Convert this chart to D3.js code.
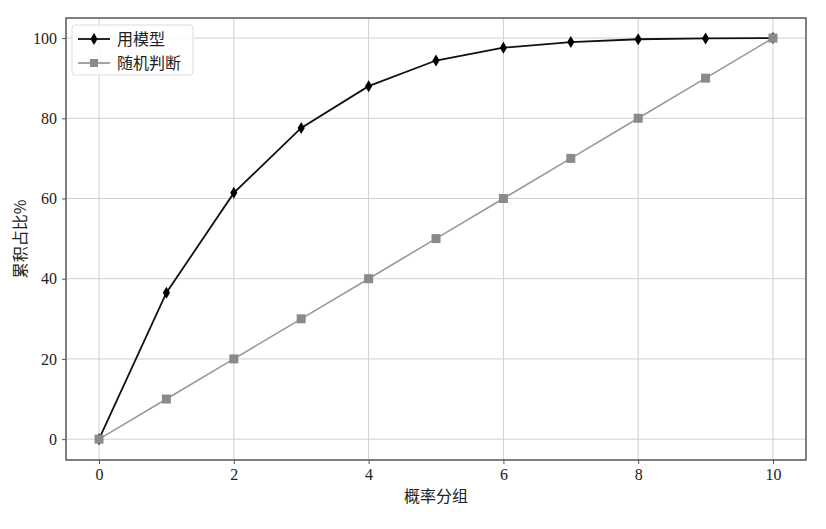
<!DOCTYPE html>
<html>
<head>
<meta charset="utf-8">
<script src="https://cdn.jsdelivr.net/npm/d3@7"></script>
<style>
  body { margin: 0; background: #fff; }
  text { font-family: "Liberation Serif", "DejaVu Serif", serif; }
  .cjk { font-family: "Noto Sans CJK SC", sans-serif; }
</style>
</head>
<body>
<svg id="chart" width="826" height="529"></svg>
<script>
// groups on the x axis
const groups = [0, 1, 2, 3, 4, 5, 6, 7, 8, 9, 10];
// cumulative share, using the model
const modelValues = [0, 36.5, 61.4, 77.6, 88.0, 94.4, 97.6, 99.0, 99.7, 99.9, 100];
// cumulative share, random guess
const randomValues = [0, 10, 20, 30, 40, 50, 60, 70, 80, 90, 100];
const xTicks = [0, 2, 4, 6, 8, 10];
const yTicks = [0, 20, 40, 60, 80, 100];
const seriesNames = ['用模型', '随机判断'];

const svg = d3.select('#chart');
const plotLeft = 66, plotRight = 806, plotTop = 18, plotBottom = 460;

const x = d3.scaleLinear().domain([-0.49, 10.49]).range([plotLeft, plotRight]);
const y = d3.scaleLinear().domain([-5.2, 105]).range([plotBottom, plotTop]);

// grid
svg.append('g').selectAll('line').data(xTicks).join('line')
    .attr('x1', d => x(d)).attr('x2', d => x(d))
    .attr('y1', plotTop).attr('y2', plotBottom)
    .attr('stroke', '#cfcfcf').attr('stroke-width', 1);
svg.append('g').selectAll('line').data(yTicks).join('line')
    .attr('y1', d => y(d)).attr('y2', d => y(d))
    .attr('x1', plotLeft).attr('x2', plotRight)
    .attr('stroke', '#cfcfcf').attr('stroke-width', 1);

// axes
const xAxis = svg.append('g').attr('transform', `translate(0,${plotBottom})`)
    .call(d3.axisBottom(x).tickValues(xTicks).tickSize(4).tickPadding(5));
const yAxis = svg.append('g').attr('transform', `translate(${plotLeft},0)`)
    .call(d3.axisLeft(y).tickValues(yTicks).tickSize(4).tickPadding(5));
[xAxis, yAxis].forEach(a => {
    a.select('.domain').remove();
    a.selectAll('line').attr('stroke', '#555');
    a.selectAll('text').attr('font-size', 16).attr('fill', '#222')
        .style('font-family', '"Liberation Serif", serif');
});

// frame
svg.append('rect')
    .attr('x', plotLeft).attr('y', plotTop)
    .attr('width', plotRight - plotLeft).attr('height', plotBottom - plotTop)
    .attr('fill', 'none').attr('stroke', '#555').attr('stroke-width', 1.5);

const line = d3.line().x((d, i) => x(groups[i])).y(d => y(d));
const diamond = 'M0,-6L3.6,0L0,6L-3.6,0Z';

// model series
svg.append('path').datum(modelValues)
    .attr('d', line).attr('fill', 'none')
    .attr('stroke', '#111').attr('stroke-width', 1.8);
svg.append('g').selectAll('path').data(modelValues).join('path')
    .attr('d', diamond)
    .attr('transform', (d, i) => `translate(${x(groups[i])},${y(d)})`)
    .attr('fill', '#000');

// random series
svg.append('path').datum(randomValues)
    .attr('d', line).attr('fill', 'none')
    .attr('stroke', '#999').attr('stroke-width', 1.6);
svg.append('g').selectAll('rect').data(randomValues).join('rect')
    .attr('x', (d, i) => x(groups[i]) - 4.5).attr('y', d => y(d) - 4.5)
    .attr('width', 9).attr('height', 9).attr('fill', '#8a8a8a');

// legend
const lg = svg.append('g').attr('transform', 'translate(72,25)');
lg.append('rect').attr('width', 121).attr('height', 50).attr('rx', 3)
    .attr('fill', 'rgba(255,255,255,0.85)').attr('stroke', '#ddd');
const items = [
    { name: seriesNames[0], color: '#111', mark: 'diamond' },
    { name: seriesNames[1], color: '#999', mark: 'square' }
];
items.forEach((it, i) => {
    const cy = 14 + i * 24;
    lg.append('line').attr('x1', 6).attr('x2', 38).attr('y1', cy).attr('y2', cy)
        .attr('stroke', it.color).attr('stroke-width', 1.8);
    if (it.mark === 'diamond') {
        lg.append('path').attr('d', diamond).attr('transform', `translate(22,${cy})`).attr('fill', '#000');
    } else {
        lg.append('rect').attr('x', 18).attr('y', cy - 4).attr('width', 8).attr('height', 8).attr('fill', '#8a8a8a');
    }
    lg.append('text').attr('class', 'cjk').attr('x', 45).attr('y', cy + 5.5)
        .attr('font-size', 16).attr('fill', '#222').text(it.name);
});

// axis labels
svg.append('text').attr('class', 'cjk')
    .attr('x', (plotLeft + plotRight) / 2).attr('y', 502)
    .attr('text-anchor', 'middle').attr('font-size', 16).attr('fill', '#222')
    .text('概率分组');
svg.append('text').attr('class', 'cjk')
    .attr('transform', `translate(26,${(plotTop + plotBottom) / 2}) rotate(-90)`)
    .attr('text-anchor', 'middle').attr('font-size', 16).attr('fill', '#222')
    .text('累积占比%');
</script>
</body>
</html>
